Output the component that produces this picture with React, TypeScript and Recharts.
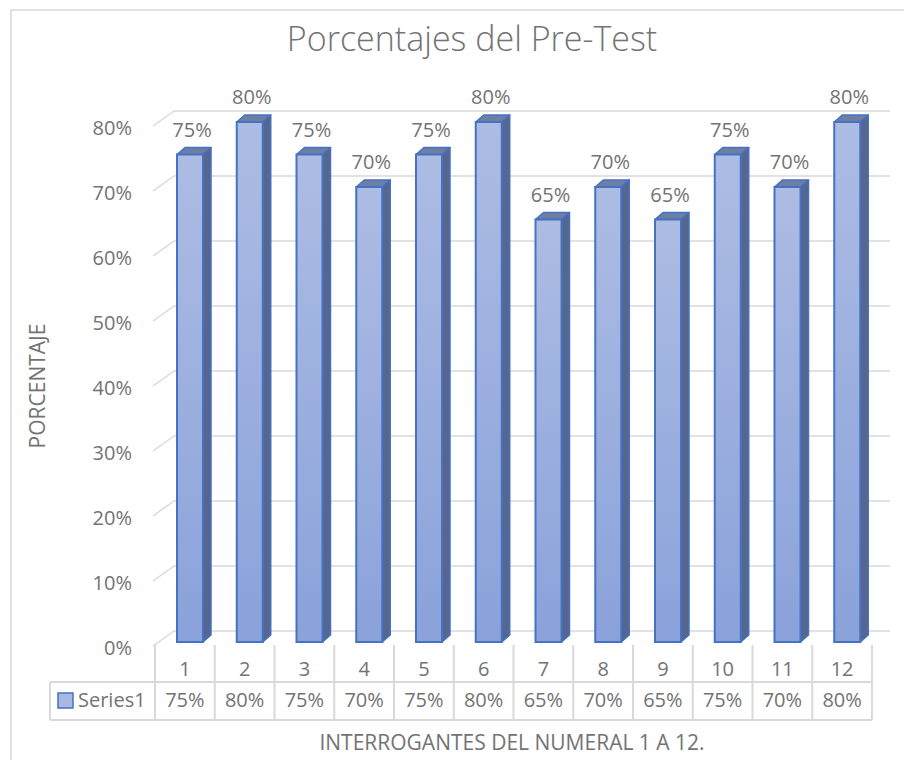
import React from "react";
import { BarChart, Bar, XAxis, YAxis, CartesianGrid, LabelList } from "recharts";

const categories = ["1", "2", "3", "4", "5", "6", "7", "8", "9", "10", "11", "12"];
const series1 = [75, 80, 75, 70, 75, 80, 65, 70, 65, 75, 70, 80];
const yTicks = [0, 10, 20, 30, 40, 50, 60, 70, 80];
const seriesName = "Series1";

const data = categories.map((c, i) => ({ name: c, value: series1[i] }));

const W = 904;
const H = 760;
const FONT = "'Open Sans', 'Noto Sans', sans-serif";
const TXT = "#737373";
const GRID = "#d9d9d9";
const PLOT_L = 155;
const PLOT_R = 872;
const BAND = (PLOT_R - PLOT_L) / categories.length;
const DX = 8; // 3d depth
const DY = 7;

const pct = (v: number) => `${v}%`;

const Bar3D = (props: any) => {
  const { x, y, width, height } = props;
  if (height <= 0) return null;
  const fx = x + 5;
  const w = width;
  return (
    <g>
      <polygon
        points={`${fx},${y} ${fx + DX},${y - DY} ${fx + w + DX},${y - DY} ${fx + w},${y}`}
        fill="#6f7ea3"
        stroke="#4472c4"
        strokeWidth={1.5}
        strokeLinejoin="round"
      />
      <polygon
        points={`${fx + w},${y} ${fx + w + DX},${y - DY} ${fx + w + DX},${y + height - DY} ${fx + w},${y + height}`}
        fill="#56668f"
        stroke="#4472c4"
        strokeWidth={1.5}
        strokeLinejoin="round"
      />
      <rect x={fx} y={y} width={w} height={height} fill="url(#barFront)" stroke="#4472c4" strokeWidth={2} />
    </g>
  );
};

const BarLabel = (props: any) => {
  const { x, y, width, value } = props;
  return (
    <text x={x + width / 2 + 7} y={y - 18} textAnchor="middle" fontFamily={FONT} fontSize={20} fill={TXT}>
      {pct(value)}
    </text>
  );
};

const YTick = (props: any) => {
  const { x, y, payload } = props;
  return (
    <text x={x} y={y + 13} textAnchor="end" fontFamily={FONT} fontSize={20} fill={TXT}>
      {pct(payload.value)}
    </text>
  );
};

// the data table lives under the axis: one column per category
const TableTick = (props: any) => {
  const { x, y, payload, index } = props;
  const l = x - BAND / 2;
  const r = x + BAND / 2;
  const rowTop = y + 40;
  const rowBot = y + 78;
  return (
    <g>
      <text x={x} y={y + 34} textAnchor="middle" fontFamily={FONT} fontSize={20} fill={TXT}>
        {payload.value}
      </text>
      <text x={x} y={y + 65} textAnchor="middle" fontFamily={FONT} fontSize={20} fill={TXT}>
        {pct(series1[index])}
      </text>
      <line x1={r} y1={y + 3} x2={r} y2={rowBot} stroke={GRID} strokeWidth={2} />
      <line x1={l} y1={rowTop} x2={r} y2={rowTop} stroke={GRID} strokeWidth={2} />
      <line x1={l} y1={rowBot} x2={r} y2={rowBot} stroke={GRID} strokeWidth={2} />
      {index === 0 && (
        <g>
          <line x1={l} y1={y + 3} x2={l} y2={rowBot} stroke={GRID} strokeWidth={2} />
          <line x1={l - 105} y1={rowTop} x2={l} y2={rowTop} stroke={GRID} strokeWidth={2} />
          <line x1={l - 105} y1={rowBot} x2={l} y2={rowBot} stroke={GRID} strokeWidth={2} />
          <line x1={l - 105} y1={rowTop} x2={l - 105} y2={rowBot} stroke={GRID} strokeWidth={2} />
          <rect x={l - 97} y={y + 51} width={15} height={15} fill="#a9b8e0" stroke="#4472c4" strokeWidth={1.5} />
          <text x={l - 77} y={y + 65} fontFamily={FONT} fontSize={20} fill={TXT}>
            {seriesName}
          </text>
        </g>
      )}
    </g>
  );
};

// back wall gridline plus the short diagonal on the side wall
const WallLine = (props: any) => {
  const { x1, x2, y1 } = props;
  return (
    <g key={props.key}>
      <line x1={x1 - 2} y1={y1 + 4} x2={x1 + 19} y2={y1 - 11} stroke={GRID} strokeWidth={1.5} />
      <line x1={x1 + 19} y1={y1 - 11} x2={x2 + 18} y2={y1 - 11} stroke={GRID} strokeWidth={1.5} />
    </g>
  );
};

export default function App() {
  return (
    <div style={{ position: "absolute", left: 0, top: 0, width: W, height: H, background: "#fff" }}>
      <BarChart
        width={W}
        height={H}
        data={data}
        margin={{ top: 122, right: W - PLOT_R, bottom: 0, left: PLOT_L - 60 }}
        barSize={26}
      >
        <defs>
          <linearGradient id="barFront" x1="0" y1="0" x2="0" y2="1">
            <stop offset="0%" stopColor="#adbce3" />
            <stop offset="100%" stopColor="#8aa2da" />
          </linearGradient>
        </defs>
        <CartesianGrid vertical={false} horizontal={(p: any) => <WallLine {...p} />} />
        <XAxis
          dataKey="name"
          height={118}
          axisLine={false}
          tickLine={false}
          tickSize={0}
          tickMargin={0}
          interval={0}
          tick={<TableTick />}
        />
        <YAxis
          width={60}
          domain={[0, 80]}
          ticks={yTicks}
          axisLine={false}
          tickLine={false}
          tickSize={0}
          tickMargin={23}
          tick={<YTick />}
        />
        <Bar dataKey="value" shape={<Bar3D />} isAnimationActive={false}>
          <LabelList dataKey="value" content={<BarLabel />} />
        </Bar>
      </BarChart>
      <svg width={W} height={H} style={{ position: "absolute", left: 0, top: 0, pointerEvents: "none" }}>
        <rect x={11} y={10} width={W} height={H} fill="none" stroke={GRID} strokeWidth={1.5} />
        <text x={472} y={51} textAnchor="middle" fontFamily={FONT} fontWeight={300} fontSize={34} fill={TXT}>
          Porcentajes del Pre-Test
        </text>
        <text
          x={0}
          y={0}
          transform="translate(45 386) rotate(-90)"
          textAnchor="middle"
          fontFamily={FONT}
          fontSize={21}
          fill={TXT}
        >
          PORCENTAJE
        </text>
        <text x={512} y={750} textAnchor="middle" fontFamily={FONT} fontSize={21} fill={TXT}>
          INTERROGANTES DEL NUMERAL 1 A 12.
        </text>
      </svg>
    </div>
  );
}
